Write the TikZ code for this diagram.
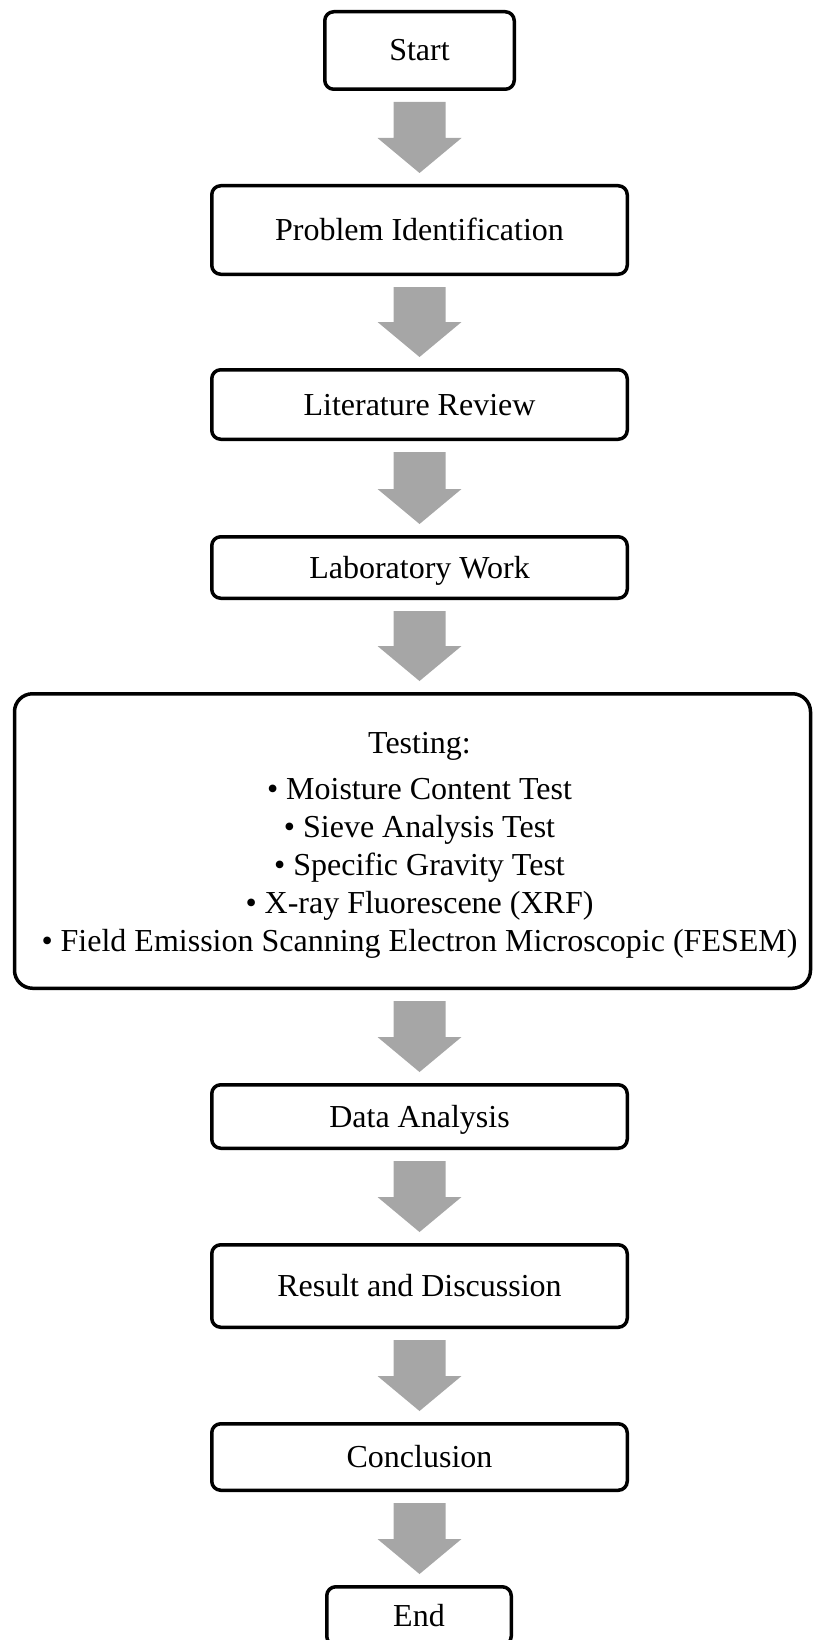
\documentclass[tikz,border=0pt]{standalone}
\usepackage{fontspec}
\setmainfont{Liberation Serif}
\usetikzlibrary{calc}
\definecolor{arrowgray}{RGB}{166,166,166}
\tikzset{
  basebox/.style={draw=black, line width=3.5pt, fill=white, inner sep=0pt,
    font=\fontsize{32}{38}\selectfont, align=center},
  stepbox/.style={basebox, rounded corners=9pt, text height=21pt, text depth=0pt},
  listbox/.style={basebox, rounded corners=18pt},
  listtext/.style={inner sep=0pt, font=\fontsize{32}{38}\selectfont, align=center},
}
% thick grey block arrow from the bottom of #1 to the top of #2
\newcommand\flowarrow[2]{%
  \fill[arrowgray] let \p0=(spine), \p1=(#1.south), \p2=(#2.north) in
    (\x0-26pt,\y1-11pt) -- (\x0+26pt,\y1-11pt) -- (\x0+26pt,\y2+46pt) --
    (\x0+42pt,\y2+46pt) -- (\x0,\y2+11pt) -- (\x0-42pt,\y2+46pt) --
    (\x0-26pt,\y2+46pt) -- cycle;}
\begin{document}
\begin{tikzpicture}[x=1pt,y=-1pt]
  \useasboundingbox (0,0) rectangle (816,1640);
  \clip (0,0) rectangle (816,1640);
  \coordinate (spine) at (419.5,0);

  \node[stepbox, minimum width=189.5pt, minimum height=77.5pt] (start) at (419.5,50.5) {Start};
  \node[stepbox, minimum width=415.5pt, minimum height=88.5pt] (problem) at (419.5,230) {Problem Identification};
  \node[stepbox, minimum width=415.5pt, minimum height=69.5pt] (review) at (419.5,404.5) {Literature Review};
  \node[stepbox, minimum width=415.5pt, minimum height=61.5pt] (lab) at (419.5,567.5) {Laboratory Work};
  \node[listbox, minimum width=796pt, minimum height=294.5pt] (testing) at (412.5,841) {};
  \node[listtext] (testlist) at ($(spine |- testing.center)+(0,4)$)
    {Testing:\\[8pt]
     • Moisture Content Test\\
     • Sieve Analysis Test\\
     • Specific Gravity Test\\
     • X-ray Fluorescene (XRF)\\
     • Field Emission Scanning Electron Microscopic (FESEM)};
  \node[stepbox, minimum width=415.5pt, minimum height=63.5pt] (data) at (419.5,1116.5) {Data Analysis};
  \node[stepbox, minimum width=415.5pt, minimum height=82.5pt] (result) at (419.5,1286) {Result and Discussion};
  \node[stepbox, minimum width=415.5pt, minimum height=66.5pt] (conclusion) at (419.5,1457) {Conclusion};
  \node[stepbox, minimum width=184.5pt, minimum height=58.5pt] (end) at (419,1616) {End};

  \flowarrow{start}{problem}
  \flowarrow{problem}{review}
  \flowarrow{review}{lab}
  \flowarrow{lab}{testing}
  \flowarrow{testing}{data}
  \flowarrow{data}{result}
  \flowarrow{result}{conclusion}
  \flowarrow{conclusion}{end}
\end{tikzpicture}
\end{document}
